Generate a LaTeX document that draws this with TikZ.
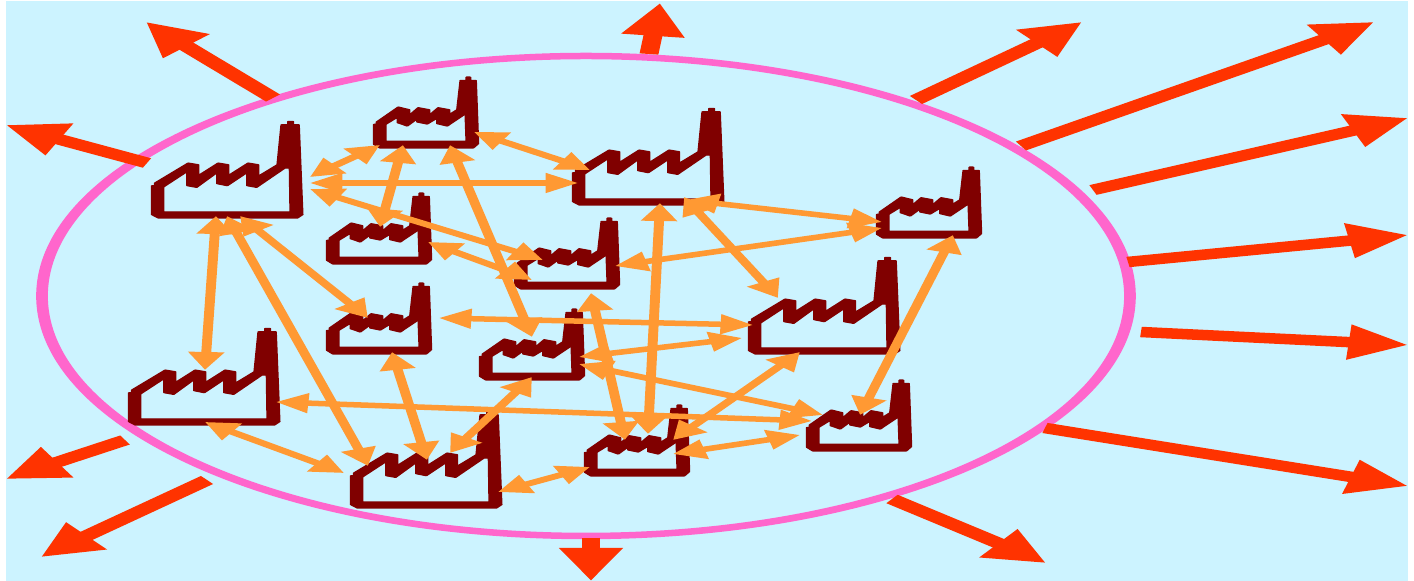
\documentclass[tikz,border=0pt]{standalone}
\usepackage{tikz}
\usetikzlibrary{shapes,arrows.meta}
\definecolor{skyback}{HTML}{CCF3FF}
\definecolor{ringpink}{HTML}{FF66CC}
\definecolor{burstred}{HTML}{FF3300}
\definecolor{linkorange}{HTML}{FF9933}
\definecolor{plantred}{HTML}{800000}
\tikzstyle{link} = [draw=linkorange, line width=0.55mm, {Triangle[length=1.8mm,width=1.9mm]}-{Triangle[length=1.8mm,width=1.9mm]}]
\tikzstyle{burst} = [draw=burstred, line width=1.05mm, -{Triangle[length=3.3mm,width=3.3mm]}]
\tikzstyle{plant} = [fill=plantred, draw=plantred, line width=0.12mm, line join=bevel, even odd rule, x=0.0185mm, y=0.0333mm]
\tikzset{
  bigfactory/.pic={
    \path [plant]
      (0,97) -- (9,97) -- (9,105) -- (109,165) -- (139,160) -- (139,127) -- (199,165) -- (229,160) -- (229,127) -- (289,165) -- (319,160) -- (319,125) -- (377,160) -- (389,280) -- (409,280) -- (409,290) -- (424,290) -- (424,280) -- (441,280) -- (452,10) -- (437,0) -- (19,0) -- (0,10) -- cycle
      (34,93) -- (106,140) -- (106,97) -- (134,92) -- (196,137) -- (196,103) -- (226,97) -- (286,137) -- (286,97) -- (314,92) -- (399,150) -- (414,150) -- (416,18) -- (34,18) -- cycle;
  },
  smallfactory/.pic={
    \path [plant]
      (0,71) -- (8,71) -- (8,78) -- (73,123) -- (106,115) -- (106,98) -- (133,121) -- (166,115) -- (166,98) -- (193,121) -- (226,115) -- (226,100) -- (250,115) -- (260,203) -- (278,203) -- (278,213) -- (289,213) -- (289,203) -- (306,203) -- (313,13) -- (298,0) -- (18,0) -- (0,11) -- cycle
      (35,71) -- (71,93) -- (71,76) -- (100,66) -- (130,88) -- (130,78) -- (160,72) -- (190,90) -- (190,73) -- (220,66) -- (275,103) -- (278,20) -- (35,20) -- cycle;
  }
}
\begin{document}
\begin{tikzpicture}[x=0.1mm, y=-0.1mm]
        \useasboundingbox (0,0) rectangle (1414,581);
        \fill [skyback] (6,1) rectangle (1408,581);
        % everything below is stretched sideways, strokes and tips too
        \begin{scope}[x=0.05556mm, transform canvas={xscale=1.8}]
        \node (ring) [ellipse, minimum width=60.44mm, minimum height=48mm, inner sep=0pt, draw=ringpink, line width=0.65mm] at (586,296) {};

        % burst arrows leaving the ring
        \coordinate (r1a) at (273,98); \coordinate (r1b) at (146,22);
        \path [burst] (r1a) -- (r1b);
        \coordinate (r2a) at (147,163); \coordinate (r2b) at (6,125);
        \path [burst] (r2a) -- (r2b);
        \coordinate (r3a) at (649,54); \coordinate (r3b) at (660,3);
        \path [burst] (r3a) -- (r3b);
        \coordinate (r4a) at (916,100); \coordinate (r4b) at (1082,22);
        \path [burst] (r4a) -- (r4b);
        \coordinate (r5a) at (1021,146); \coordinate (r5b) at (1374,22);
        \path [burst] (r5a) -- (r5b);
        \coordinate (r6a) at (1093,190); \coordinate (r6b) at (1408,118);
        \path [burst] (r6a) -- (r6b);
        \coordinate (r7a) at (1128,262); \coordinate (r7b) at (1408,235);
        \path [burst] (r7a) -- (r7b);
        \coordinate (r8a) at (1141,332); \coordinate (r8b) at (1408,345);
        \path [burst] (r8a) -- (r8b);
        \coordinate (r9a) at (1045,428); \coordinate (r9b) at (1408,486);
        \path [burst] (r9a) -- (r9b);
        \coordinate (r10a) at (892,499); \coordinate (r10b) at (1046,563);
        \path [burst] (r10a) -- (r10b);
        \coordinate (r11a) at (591,538); \coordinate (r11b) at (591,581);
        \path [burst] (r11a) -- (r11b);
        \coordinate (r12a) at (207,480); \coordinate (r12b) at (41,557);
        \path [burst] (r12a) -- (r12b);
        \coordinate (r13a) at (125,440); \coordinate (r13b) at (6,479);
        \path [burst] (r13a) -- (r13b);

        % factories
        \pic (f1) at (152,218) {bigfactory};
        \pic (f2) at (374,148) {smallfactory};
        \pic (f3) at (573,205) {bigfactory};
        \pic (f4) at (877,238) {smallfactory};
        \pic (f5) at (327,264) {smallfactory};
        \pic (f6) at (515,289) {smallfactory};
        \pic (f7) at (749,354) {bigfactory};
        \pic (f8) at (327,354) {smallfactory};
        \pic (f9) at (480,380) {smallfactory};
        \pic (f10) at (129,425) {bigfactory};
        \pic (f11) at (351,508) {bigfactory};
        \pic (f12) at (585,476) {smallfactory};
        \pic (f13) at (807,451) {smallfactory};

        % links between factories
        \coordinate (a1) at (310,177); \coordinate (b1) at (380,145);
        \path [link] (a1) -- (b1);
        \coordinate (a2) at (310,183); \coordinate (b2) at (578,183);
        \path [link] (a2) -- (b2);
        \coordinate (a3) at (310,189); \coordinate (b3) at (543,260);
        \path [link] (a3) -- (b3);
        \coordinate (a4) at (403,145); \coordinate (b4) at (380,227);
        \path [link] (a4) -- (b4);
        \coordinate (a5) at (450,145); \coordinate (b5) at (532,337);
        \path [link] (a5) -- (b5);
        \coordinate (a6) at (474,132); \coordinate (b6) at (590,170);
        \path [link] (a6) -- (b6);
        \coordinate (a7) at (428,242); \coordinate (b7) at (532,280);
        \path [link] (a7) -- (b7);
        \coordinate (a8) at (439,318); \coordinate (b8) at (753,325);
        \path [link] (a8) -- (b8);
        \coordinate (a9) at (240,216); \coordinate (b9) at (368,318);
        \path [link] (a9) -- (b9);
        \coordinate (a10) at (216,216); \coordinate (b10) at (205,370);
        \path [link] (a10) -- (b10);
        \coordinate (a11) at (227,216); \coordinate (b11) at (368,466);
        \path [link] (a11) -- (b11);
        \coordinate (a12) at (276,402); \coordinate (b12) at (812,421);
        \path [link] (a12) -- (b12);
        \coordinate (a13) at (205,422); \coordinate (b13) at (344,473);
        \path [link] (a13) -- (b13);
        \coordinate (a14) at (392,352); \coordinate (b14) at (427,460);
        \path [link] (a14) -- (b14);
        \coordinate (a15) at (532,377); \coordinate (b15) at (450,453);
        \path [link] (a15) -- (b15);
        \coordinate (a16) at (498,492); \coordinate (b16) at (590,467);
        \path [link] (a16) -- (b16);
        \coordinate (a17) at (591,293); \coordinate (b17) at (625,440);
        \path [link] (a17) -- (b17);
        \coordinate (a18) at (660,203); \coordinate (b18) at (648,434);
        \path [link] (a18) -- (b18);
        \coordinate (a19) at (579,357); \coordinate (b19) at (742,338);
        \path [link] (a19) -- (b19);
        \coordinate (a20) at (579,364); \coordinate (b20) at (823,415);
        \path [link] (a20) -- (b20);
        \coordinate (a21) at (673,440); \coordinate (b21) at (800,352);
        \path [link] (a21) -- (b21);
        \coordinate (a22) at (673,454); \coordinate (b22) at (800,435);
        \path [link] (a22) -- (b22);
        \coordinate (a23) at (686,200); \coordinate (b23) at (882,222);
        \path [link] (a23) -- (b23);
        \coordinate (a24) at (684,197); \coordinate (b24) at (778,298);
        \path [link] (a24) -- (b24);
        \coordinate (a25) at (882,228); \coordinate (b25) at (615,266);
        \path [link] (a25) -- (b25);
        \coordinate (a26) at (953,235); \coordinate (b26) at (860,415);
        \path [link] (a26) -- (b26);
        \end{scope}
    \end{tikzpicture}
\end{document}
